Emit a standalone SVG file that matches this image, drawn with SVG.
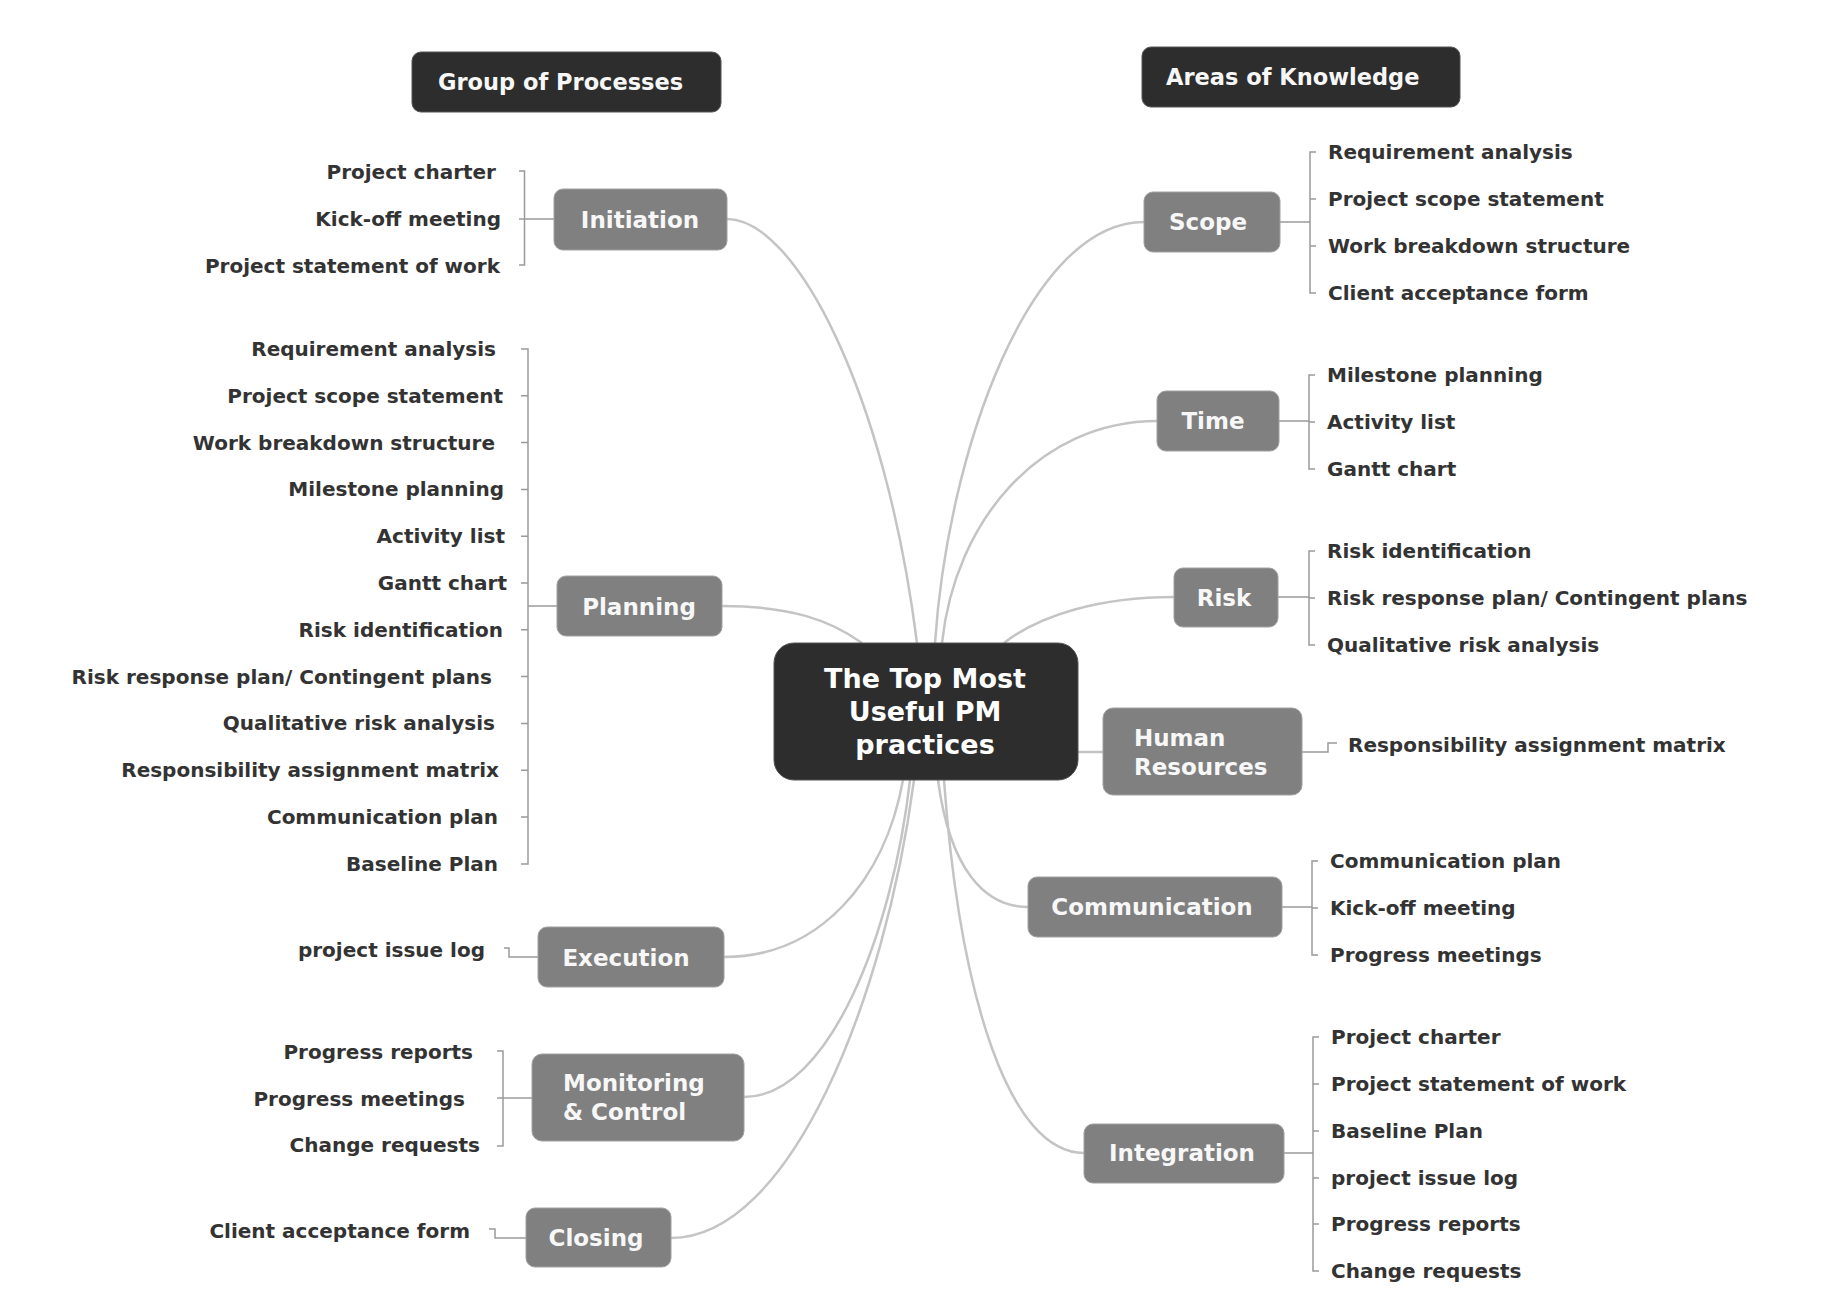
<svg xmlns="http://www.w3.org/2000/svg" width="1842" height="1306" viewBox="0 0 1842 1306">
<style>
text{font-family:"DejaVu Sans","Liberation Sans",sans-serif;font-weight:bold}
.leaf{font-size:20px;fill:#333333}
.br{font-size:23px;fill:#f7f7f7}
.hd{font-size:22.5px;fill:#f7f7f7}
.ct{font-size:27px;fill:#ffffff}
.dark{fill:#2d2d2d;stroke:#555;stroke-width:1}
.gray{fill:#808080;stroke:#a0a0a0;stroke-width:1}
.curve{fill:none;stroke:#c4c4c4;stroke-width:2.5}
.brk{fill:none;stroke:#9a9a9a;stroke-width:1.5}
</style>
<rect width="1842" height="1306" fill="#ffffff"/>

<g id="connectors">
  <path class="curve" d="M727,219 C795,219 885,390 917,643"/>
  <path class="curve" d="M722,606 C790,606 830,620 862,643"/>
  <path class="curve" d="M724,957 C820,957 885,880 903,780"/>
  <path class="curve" d="M744,1097 C830,1097 893,930 910,780"/>
  <path class="curve" d="M671,1238 C790,1238 885,1000 914,780"/>
  <path class="curve" d="M935,643 C948,450 1030,222 1144,222"/>
  <path class="curve" d="M942,643 C955,520 1040,421 1157,421"/>
  <path class="curve" d="M1004,643 C1040,615 1100,597 1174,597"/>
  <path class="curve" d="M1078,752 H1103"/>
  <path class="curve" d="M938,780 C950,870 985,907 1028,907"/>
  <path class="curve" d="M944,780 C960,1000 1010,1153 1084,1153"/>

  <path class="brk" d="M519,171 H524.5 V265 H519 M519,219 H554"/>
  <path class="brk" d="M521,349 H528 V864 H521 M521,395.8 H528 M521,442.6 H528 M521,489.4 H528 M521,536.2 H528 M521,583 H528 M521,629.8 H528 M521,676.6 H528 M521,723.4 H528 M521,770.2 H528 M521,817 H528 M528,606 H557"/>
  <path class="brk" d="M504,948 H509 V957 H538"/>
  <path class="brk" d="M497,1051 H503 V1146 H497 M497,1098 H532"/>
  <path class="brk" d="M489,1229 H495 V1238 H526"/>

  <path class="brk" d="M1280,222 H1310 M1316,152 H1310 V293 H1316 M1310,199 H1316 M1310,246 H1316"/>
  <path class="brk" d="M1279,421 H1309 M1315,375 H1309 V469 H1315 M1309,422 H1315"/>
  <path class="brk" d="M1278,597 H1309 M1315,551 H1309 V645 H1315 M1309,598 H1315"/>
  <path class="brk" d="M1302,752 H1328 V743 H1337"/>
  <path class="brk" d="M1282,907 H1312 M1318,861 H1312 V955 H1318 M1312,908 H1318"/>
  <path class="brk" d="M1284,1153 H1313 M1319,1037 H1313 V1271 H1319 M1313,1084 H1319 M1313,1131 H1319 M1313,1178 H1319 M1313,1224 H1319"/>
</g>

<g id="header-processes">
  <rect class="dark" x="412" y="52" width="309" height="60" rx="9"/>
  <text class="hd" x="438" y="90">Group of Processes</text>
</g>
<g id="header-knowledge">
  <rect class="dark" x="1142" y="47" width="318" height="60" rx="9"/>
  <text class="hd" x="1166" y="85">Areas of Knowledge</text>
</g>

<g id="center">
  <rect class="dark" x="774" y="643" width="304" height="137" rx="20"/>
  <text class="ct" x="925" y="688" text-anchor="middle">The Top Most</text>
  <text class="ct" x="925" y="721" text-anchor="middle">Useful PM</text>
  <text class="ct" x="925" y="754" text-anchor="middle">practices</text>
</g>

<g id="initiation">
  <rect class="gray" x="554" y="189" width="173" height="61" rx="9"/>
  <text class="br" x="640" y="228" text-anchor="middle">Initiation</text>
  <text class="leaf" x="496" y="179" text-anchor="end">Project charter</text>
  <text class="leaf" x="501" y="226" text-anchor="end">Kick-off meeting</text>
  <text class="leaf" x="500" y="273" text-anchor="end">Project statement of work</text>
</g>

<g id="planning">
  <rect class="gray" x="557" y="576" width="165" height="60" rx="9"/>
  <text class="br" x="639" y="614.5" text-anchor="middle">Planning</text>
  <text class="leaf" x="496" y="356" text-anchor="end">Requirement analysis</text>
  <text class="leaf" x="503" y="403" text-anchor="end">Project scope statement</text>
  <text class="leaf" x="495" y="450" text-anchor="end">Work breakdown structure</text>
  <text class="leaf" x="504" y="496" text-anchor="end">Milestone planning</text>
  <text class="leaf" x="505" y="543" text-anchor="end">Activity list</text>
  <text class="leaf" x="507" y="590" text-anchor="end">Gantt chart</text>
  <text class="leaf" x="503" y="637" text-anchor="end">Risk identification</text>
  <text class="leaf" x="492" y="684" text-anchor="end">Risk response plan/ Contingent plans</text>
  <text class="leaf" x="495" y="730" text-anchor="end">Qualitative risk analysis</text>
  <text class="leaf" x="499" y="777" text-anchor="end">Responsibility assignment matrix</text>
  <text class="leaf" x="498" y="824" text-anchor="end">Communication plan</text>
  <text class="leaf" x="498" y="871" text-anchor="end">Baseline Plan</text>
</g>

<g id="execution">
  <rect class="gray" x="538" y="927" width="186" height="60" rx="9"/>
  <text class="br" x="626" y="965.5" text-anchor="middle">Execution</text>
  <text class="leaf" x="485" y="957" text-anchor="end">project issue log</text>
</g>

<g id="monitoring">
  <rect class="gray" x="532" y="1054" width="212" height="87" rx="10"/>
  <text class="br" x="563" y="1090.5">Monitoring</text>
  <text class="br" x="563" y="1120">&amp; Control</text>
  <text class="leaf" x="473" y="1059" text-anchor="end">Progress reports</text>
  <text class="leaf" x="465" y="1106" text-anchor="end">Progress meetings</text>
  <text class="leaf" x="480" y="1152" text-anchor="end">Change requests</text>
</g>

<g id="closing">
  <rect class="gray" x="526" y="1208" width="145" height="59" rx="9"/>
  <text class="br" x="596" y="1246" text-anchor="middle">Closing</text>
  <text class="leaf" x="470" y="1238" text-anchor="end">Client acceptance form</text>
</g>

<g id="scope">
  <rect class="gray" x="1144" y="192" width="136" height="60" rx="9"/>
  <text class="br" x="1208" y="230" text-anchor="middle">Scope</text>
  <text class="leaf" x="1328" y="159">Requirement analysis</text>
  <text class="leaf" x="1328" y="206">Project scope statement</text>
  <text class="leaf" x="1328" y="253">Work breakdown structure</text>
  <text class="leaf" x="1328" y="300">Client acceptance form</text>
</g>

<g id="time">
  <rect class="gray" x="1157" y="391" width="122" height="60" rx="9"/>
  <text class="br" x="1213" y="429" text-anchor="middle">Time</text>
  <text class="leaf" x="1327" y="382">Milestone planning</text>
  <text class="leaf" x="1327" y="429">Activity list</text>
  <text class="leaf" x="1327" y="476">Gantt chart</text>
</g>

<g id="risk">
  <rect class="gray" x="1174" y="568" width="104" height="59" rx="9"/>
  <text class="br" x="1224" y="605.5" text-anchor="middle">Risk</text>
  <text class="leaf" x="1327" y="558">Risk identification</text>
  <text class="leaf" x="1327" y="605">Risk response plan/ Contingent plans</text>
  <text class="leaf" x="1327" y="652">Qualitative risk analysis</text>
</g>

<g id="human-resources">
  <rect class="gray" x="1103" y="708" width="199" height="87" rx="10"/>
  <text class="br" x="1134" y="746">Human</text>
  <text class="br" x="1134" y="775">Resources</text>
  <text class="leaf" x="1348" y="752">Responsibility assignment matrix</text>
</g>

<g id="communication">
  <rect class="gray" x="1028" y="877" width="254" height="60" rx="9"/>
  <text class="br" x="1152" y="915" text-anchor="middle">Communication</text>
  <text class="leaf" x="1330" y="868">Communication plan</text>
  <text class="leaf" x="1330" y="915">Kick-off meeting</text>
  <text class="leaf" x="1330" y="962">Progress meetings</text>
</g>

<g id="integration">
  <rect class="gray" x="1084" y="1124" width="200" height="59" rx="9"/>
  <text class="br" x="1182" y="1161" text-anchor="middle">Integration</text>
  <text class="leaf" x="1331" y="1044">Project charter</text>
  <text class="leaf" x="1331" y="1091">Project statement of work</text>
  <text class="leaf" x="1331" y="1138">Baseline Plan</text>
  <text class="leaf" x="1331" y="1185">project issue log</text>
  <text class="leaf" x="1331" y="1231">Progress reports</text>
  <text class="leaf" x="1331" y="1278">Change requests</text>
</g>
</svg>
